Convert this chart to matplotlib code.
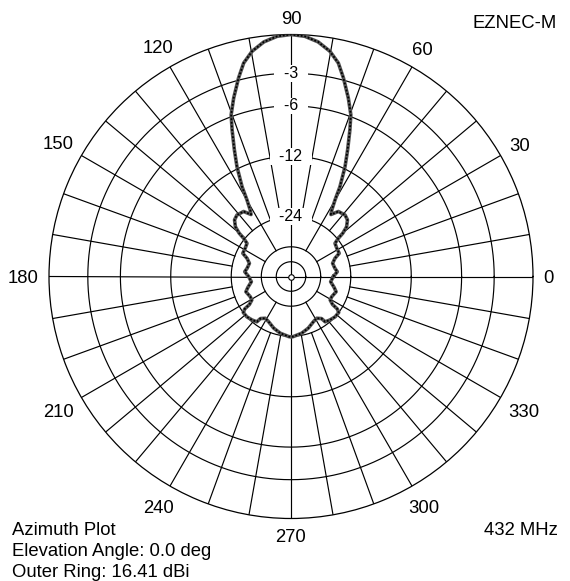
import numpy as np
import matplotlib
matplotlib.use("Agg")
import matplotlib.pyplot as plt

plt.rcParams['font.family'] = ['Liberation Sans', 'DejaVu Sans']

# azimuth pattern, gain relative to the maximum (dB)
azimuth_deg = [0, 5.9, 10.6, 17.6, 22.5, 25.7, 31.7, 37.0, 38.9, 39.9, 41.8, 45.1,
               48.7, 53.9, 57.2, 58.5, 60.1, 61.4, 63.8, 65.9, 68.1, 69.7, 72.2,
               75.2, 77.5, 80.2, 83.4, 86.7, 90, 93.3, 96.6, 99.8, 102.5, 104.8,
               107.8, 110.3, 111.9, 114.1, 116.2, 118.6, 119.9, 121.5, 122.8,
               126.1, 131.3, 134.9, 138.2, 140.1, 141.1, 143.0, 148.3, 154.3,
               157.5, 162.4, 169.4, 174.1, 180, 187.5, 194.1, 198.7, 206.4, 211,
               214, 215, 217, 222.4, 228.1, 233.0, 234.0, 238.4, 243.7, 251.5,
               259.3, 267.8, 270, 272.2, 280.7, 288.5, 296.3, 301.6, 306.0, 307.0,
               311.9, 317.6, 323, 325, 326, 329, 333.6, 341.3, 345.9, 352.5, 360]
gain_db = [-29.9, -28.3, -29.0, -29.4, -27.9, -25.9, -25.8, -25.4, -23.7, -21.9,
           -20.2, -19.0, -18.6, -18.9, -20.4, -19.4, -17.3, -14.8, -11.7, -9.56,
           -7.33, -5.81, -4.38, -2.82, -1.74, -0.98, -0.42, -0.10, 0.0, -0.10,
           -0.42, -0.98, -1.74, -2.82, -4.38, -5.81, -7.33, -9.56, -11.7, -14.8,
           -17.3, -19.4, -20.4, -18.9, -18.6, -19.0, -20.2, -21.9, -23.7, -25.4,
           -25.8, -25.9, -27.9, -29.4, -29.0, -28.3, -29.9, -30.9, -29.1, -27.9,
           -28.7, -28.6, -27.0, -25.0, -24.0, -24.0, -24.4, -24.9, -26.4, -27.4,
           -26.9, -25.6, -24.6, -23.9, -23.8, -23.9, -24.6, -25.6, -26.9, -27.4,
           -26.4, -24.9, -24.4, -24.0, -24.0, -25.0, -27.0, -28.6, -28.7, -27.9,
           -29.1, -30.9, -29.9]

ring_db = [-3, -6, -12, -24, -36, -48]
ring_labels = ['-3', '-6', '-12', '-24']
angle_ticks = list(range(0, 360, 30))
info_lines = ['Azimuth Plot', 'Elevation Angle: 0.0 deg', 'Outer Ring: 16.41 dBi']
program_name = 'EZNEC-M'
frequency = '432 MHz'


def arrl(db):
    # ARRL log scale: each 2 dB shrinks the radius by 0.89
    return 0.89 ** (-np.asarray(db, dtype=float) / 2)


W, H = 570, 581
R = 242
cx, cy = 291, 276.5
fs = 13.3
fig = plt.figure(figsize=(W / 100, H / 100), dpi=100)
ax = fig.add_axes([(cx - R) / W, (H - cy - R) / H, 2 * R / W, 2 * R / H],
                  projection='polar')
ax.set_ylim(0, 1)
ax.grid(False)
ax.set_xticks([])
ax.set_yticks([])
ax.spines['polar'].set_linewidth(0.9)

# rings
t = np.linspace(0, 2 * np.pi, 721)
for db in ring_db:
    ax.plot(t, np.full_like(t, arrl(db)), color='black', lw=0.85, zorder=1)

# spokes every 10 degrees
for a in range(0, 360, 10):
    if a % 90 == 0:
        r0 = 0
    elif a % 30 == 0:
        r0 = arrl(-36)
    else:
        r0 = arrl(-24)
    ax.plot([np.radians(a)] * 2, [r0, 1], color='black', lw=0.85, zorder=1)

# ring labels along the 90 degree spoke
for db, lab in zip(ring_db, ring_labels):
    ax.text(np.pi / 2, arrl(db), f'  {lab}  ', ha='center', va='center',
            fontsize=11.5, zorder=3,
            bbox=dict(boxstyle='square,pad=0.05', fc='white', ec='none'))

ax.plot([0], [0], 'o', ms=4, mfc='white', mec='black', mew=0.8, zorder=3)

# azimuth labels around the outer ring
for a in angle_ticks:
    phi = np.radians(a)
    w = 10.3 * len(str(a))
    rc = 252 + w / 2 * abs(np.cos(phi)) + 6.5 * abs(np.sin(phi))
    ax.text(phi, rc / R, str(a), ha='center', va='center_baseline',
            fontsize=fs, clip_on=False)

# pattern trace
theta = np.radians(azimuth_deg)
r = arrl(gain_db)
ax.plot(theta, r, color='#555555', lw=2.6, zorder=4, solid_joinstyle='round')
ax.plot(theta, r, color='black', lw=1.3, ls=(0, (1, 1)), zorder=5)

for i, line in enumerate(info_lines):
    fig.text(12 / W, 1 - (535 + 21 * i) / H, line, fontsize=fs, va='baseline')
fig.text(557 / W, 1 - 28.3 / H, program_name, fontsize=fs, ha='right', va='baseline')
fig.text(558 / W, 1 - 535 / H, frequency, fontsize=fs, ha='right', va='baseline')

fig.savefig('out.png', dpi=100)
